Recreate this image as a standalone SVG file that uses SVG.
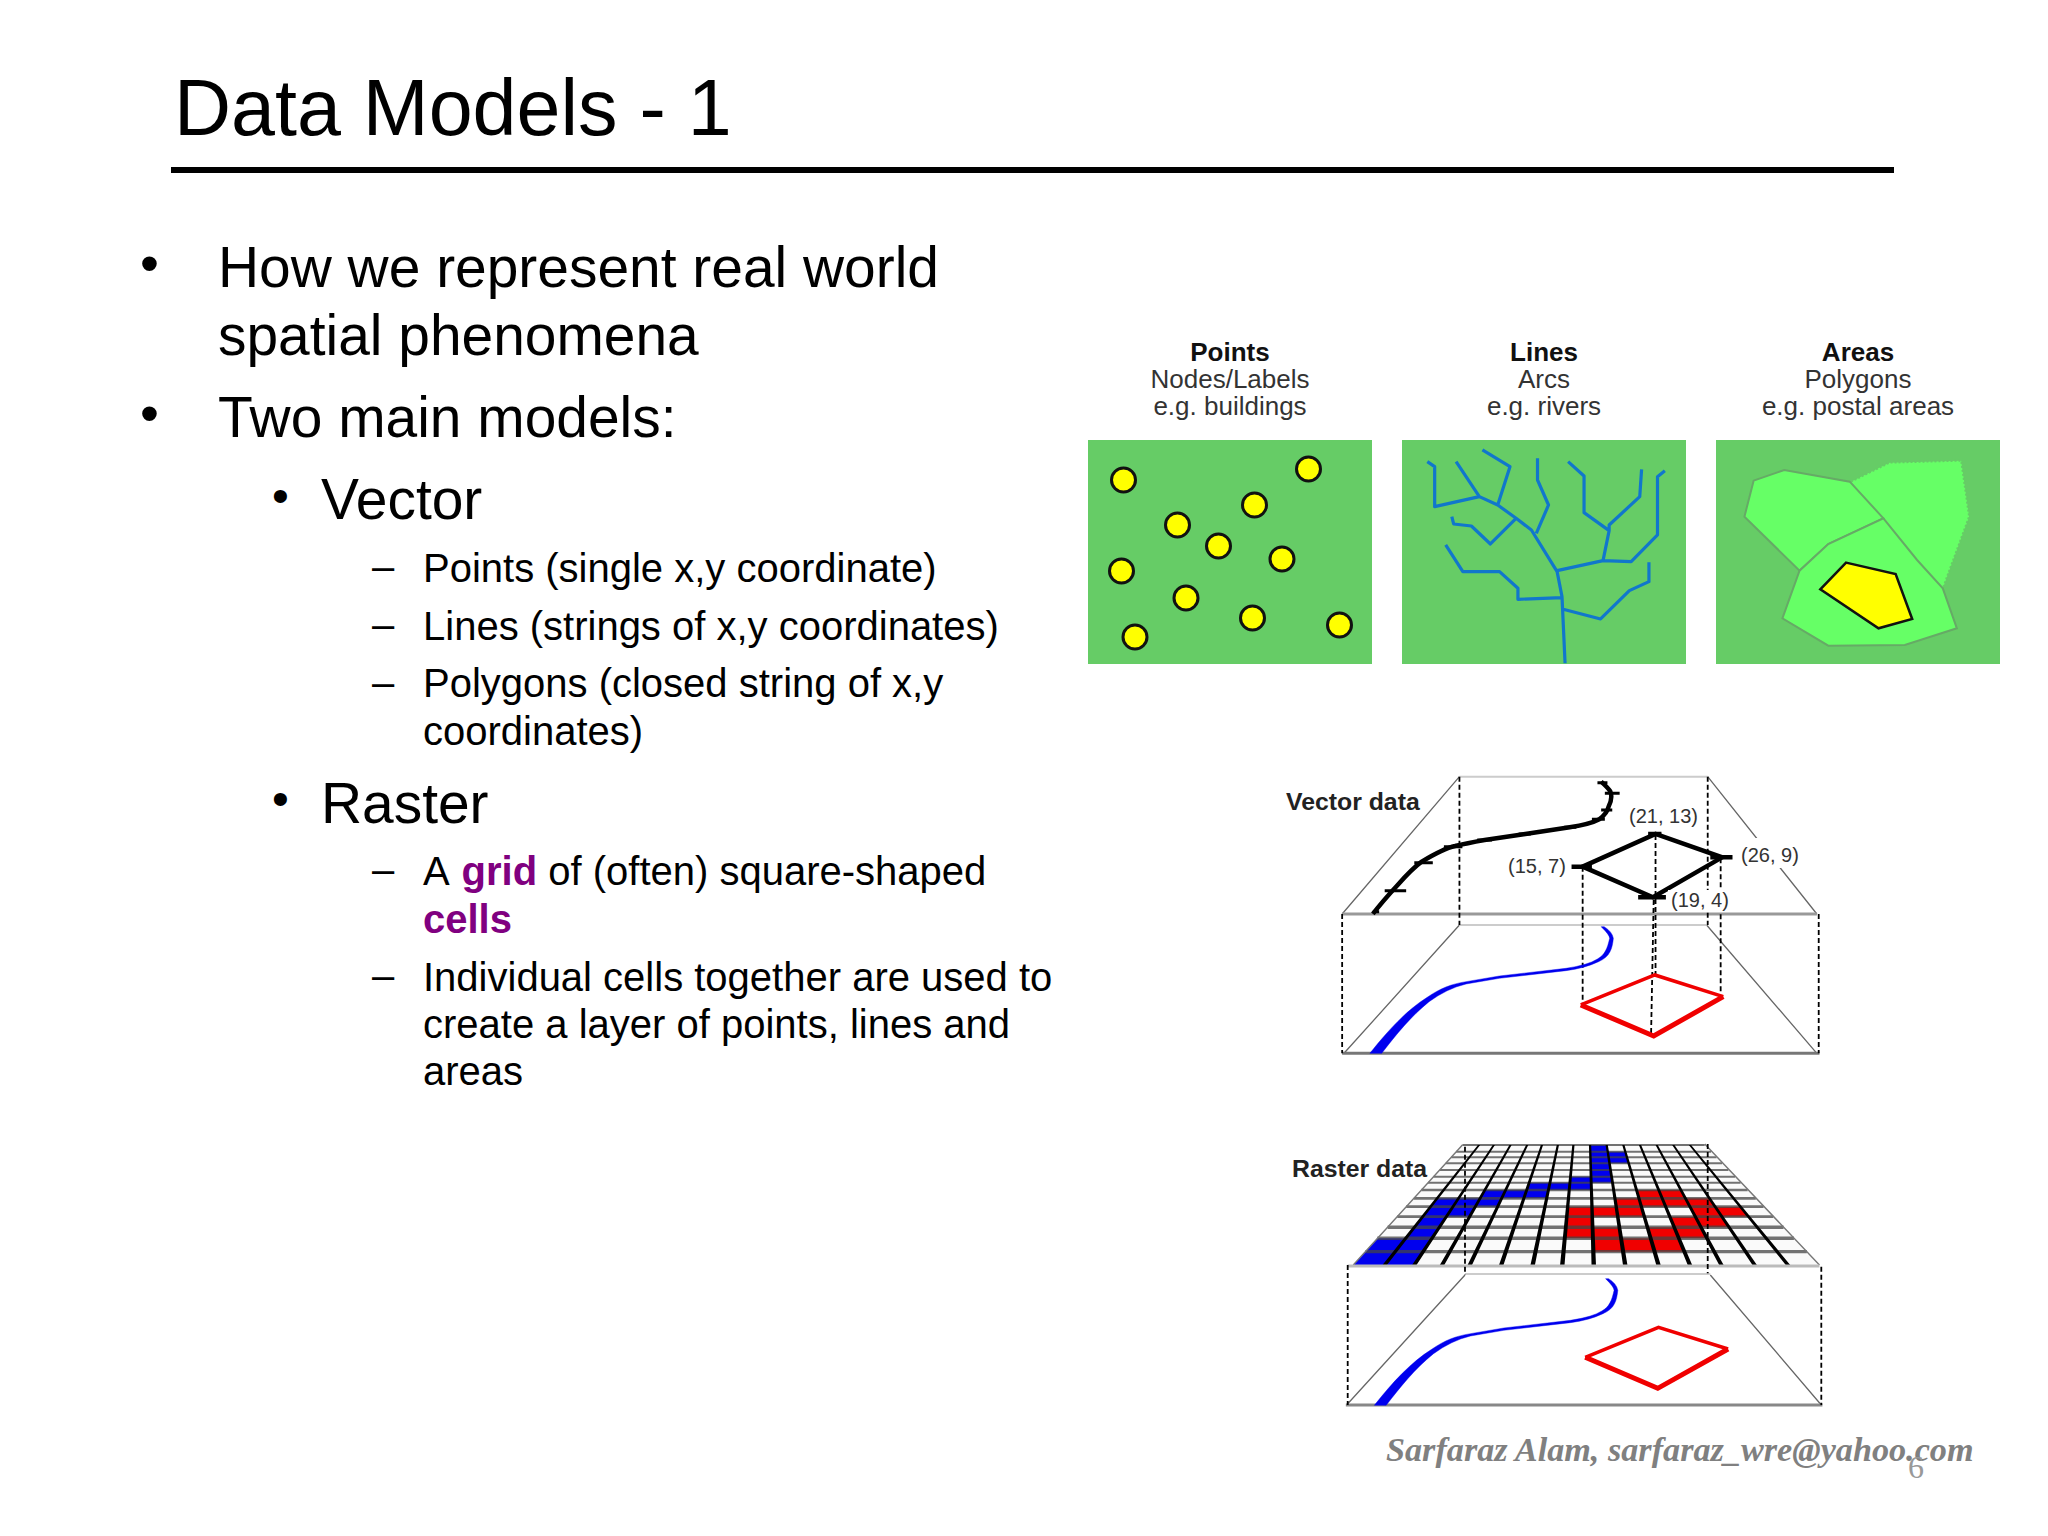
<svg xmlns="http://www.w3.org/2000/svg" width="2048" height="1536" viewBox="0 0 2048 1536">
<defs><style>
text{font-family:"Liberation Sans",Arial,sans-serif;fill:#000}
.t1{font-size:56.9px}.t2{font-size:40px}
.bu{font-size:48px}.bt{font-size:54px}
.dark{fill:#333;font-size:26px;text-anchor:middle}
.hd{fill:#111;font-size:26px;font-weight:bold;text-anchor:middle}
.co{fill:#333;font-size:20px}
.lab{fill:#222;font-size:24.8px;font-weight:bold}
.pt{fill:#ffff00;stroke:#111;stroke-width:3}
.g{fill:#66cc66}
.v *{vector-effect:non-scaling-stroke}
.riv{fill:none;stroke:#1177cc;stroke-width:3.2;stroke-linejoin:round}
.ar{fill:#66ff66;stroke:#66aa66;stroke-width:2}
.dash{fill:none;stroke:#000;stroke-width:1.8;stroke-dasharray:5 3}
.gl{fill:none;stroke:#666;stroke-width:1.3}
.gb{fill:none;stroke:#999;stroke-width:3}
.rd{fill:none;stroke:#f00000;stroke-linejoin:miter}
.blu{fill:#0000ee;stroke:#0000ee;stroke-width:1.2}
</style>
<path id="blue" d="M270,880C320,810 370,750 425,712C460,685 490,672 530,665L620,648L800,625Q860,615 885,597C905,585 912,565 918,535Q918,525 895,500L903,500Q925,515 928,535C925,565 920,590 888,605Q850,625 800,632L620,655L530,672Q480,685 430,725C380,770 340,825 302,880Z"/>
</defs>
<rect width="2048" height="1536" fill="#fff"/>
<g id="title">
<text x="174" y="135" font-size="79">Data Models - 1</text>
<rect x="171" y="167" width="1723" height="6" fill="#000"/>
</g>
<g id="body">
<text class="bt" x="140" y="282">•</text>
<text class="t1" x="218" y="287">How we represent real world</text>
<text class="t1" x="218" y="355">spatial phenomena</text>
<text class="bt" x="140" y="432">•</text>
<text class="t1" x="218" y="437">Two main models:</text>
<text class="bu" x="272" y="512">•</text>
<text class="t1" x="321" y="519">Vector</text>
<text class="t2" x="372" y="580">–</text>
<text class="t2" x="423" y="582">Points (single x,y coordinate)</text>
<text class="t2" x="372" y="638">–</text>
<text class="t2" x="423" y="640">Lines (strings of x,y coordinates)</text>
<text class="t2" x="372" y="696">–</text>
<text class="t2" x="423" y="697">Polygons (closed string of x,y</text>
<text class="t2" x="423" y="745">coordinates)</text>
<text class="bu" x="272" y="815">•</text>
<text class="t1" x="321" y="823">Raster</text>
<text class="t2" x="372" y="883">–</text>
<text class="t2" x="423" y="885">A <tspan dx="3" font-weight="bold" style="fill:#800080">grid</tspan> of (often) square-shaped</text>
<text class="t2" x="423" y="933" font-weight="bold" style="fill:#800080">cells</text>
<text class="t2" x="372" y="989">–</text>
<text class="t2" x="423" y="991">Individual cells together are used to</text>
<text class="t2" x="423" y="1038">create a layer of points, lines and</text>
<text class="t2" x="423" y="1085">areas</text>
</g>
<g id="points">
<text class="hd" x="1230" y="361">Points</text>
<text class="dark" x="1230" y="388">Nodes/Labels</text>
<text class="dark" x="1230" y="415">e.g. buildings</text>
<rect class="g" x="1088" y="440" width="284" height="224"/>
<circle class="pt" cx="1123.5" cy="480" r="12"/><circle class="pt" cx="1308.5" cy="469" r="12"/>
<circle class="pt" cx="1254.5" cy="505" r="12"/><circle class="pt" cx="1177.5" cy="525" r="12"/>
<circle class="pt" cx="1218.5" cy="546" r="12"/><circle class="pt" cx="1282" cy="559" r="12"/>
<circle class="pt" cx="1121.5" cy="571" r="12"/><circle class="pt" cx="1186" cy="598" r="12"/>
<circle class="pt" cx="1252.5" cy="618" r="12"/><circle class="pt" cx="1339.5" cy="625" r="12"/>
<circle class="pt" cx="1135" cy="637" r="12"/>
</g>
<g id="lines">
<text class="hd" x="1544" y="361">Lines</text>
<text class="dark" x="1544" y="388">Arcs</text>
<text class="dark" x="1544" y="415">e.g. rivers</text>
<rect class="g" x="1402" y="440" width="284" height="224"/>
<g class="v" transform="translate(1060 320) scale(.6122 .3333)">
<path class="riv" d="M825,1030L820,830L812,755L770,630L745,595L715,555L685,530M600,425L612,440L612,560L685,530L647,425M690,390L735,440L715,555M640,590L643,612L672,618L703,672L745,595M780,415L780,480L798,555L778,640M830,425L856,468L856,578L897,632L887,722L812,752M897,632L897,615L947,530L950,448M887,722L933,725L976,645L976,470L988,452M630,675L658,755L718,755L748,805L748,838L820,833M822,868L883,897L930,812L962,785L962,727"/>
</g>
</g>
<g id="areas">
<text class="hd" x="1858" y="361">Areas</text>
<text class="dark" x="1858" y="388">Polygons</text>
<text class="dark" x="1858" y="415">e.g. postal areas</text>
<rect class="g" x="1716" y="440" width="284" height="224"/>
<g class="v" transform="translate(1060 320) scale(.6122 .3333)">
<path d="M1292,485L1355,428L1472,422L1485,590L1442,805L1400,720L1345,595Z" fill="#66ff66"/>
<path d="M1292,485L1355,428L1472,422L1485,590L1442,805" fill="none" stroke="#66cc66" stroke-width="2" stroke-dasharray="2 2"/>
<path class="ar" d="M1133,482L1183,450L1290,485L1345,595L1255,672L1208,752L1118,590Z"/>
<path class="ar" d="M1345,595L1400,720L1442,805L1465,925L1380,975L1255,977L1180,895L1208,752L1255,672Z"/>
<path d="M1284,728L1365,762L1392,897L1337,925L1242,808Z" fill="#ffff00" stroke="#111" stroke-width="2.5"/>
</g>
</g>
<g id="vector-data">
<text class="lab" x="1286" y="810">Vector data</text>
<g class="v" transform="translate(1270 760) scale(.37 .3333)">
<path class="gl" d="M195,462L512,50M1183,50L1478,462M200,880L512,495M1180,495L1478,880"/>
<path d="M512,495H1180M512,50H1183" fill="none" stroke="#ccc" stroke-width="2"/>
<path class="gb" d="M195,462H1478"/>
<path d="M195,880H1485" fill="none" stroke="#777" stroke-width="3"/>
<path class="dash" d="M512,50V495M1183,50V495M195,462V880M1483,462V880M845,320V735M1042,225V650M1037,420L1030,820M1218,295V700"/>
<path d="M278,462C300,430 320,405 345,375C365,350 385,325 410,305C440,285 470,265 500,258C530,250 555,245 580,240L690,222L810,202C840,197 870,190 890,178C905,165 912,155 915,140C922,125 925,110 920,95C915,85 905,75 895,65" fill="none" stroke="#000" stroke-width="4.5" stroke-linejoin="round"/>
<path d="M310,392H368M390,308H440M470,260H520M560,240H600M672,222H705M795,202H828M870,178H905M895,150H925M905,100H945M885,68H912M278,455H295" fill="none" stroke="#000" stroke-width="3"/>
<path d="M845,320L1042,222L1222,292L1035,412Z" fill="none" stroke="#000" stroke-width="4.5"/>
<path d="M815,320H870M1022,222H1058M1190,292H1250M995,412H1070" fill="none" stroke="#000" stroke-width="4.5"/>
<use href="#blue" class="blu"/>
<path class="rd" stroke-width="3.5" d="M840,735L1040,645L1225,710"/>
<path class="rd" stroke-width="5" d="M840,735L1037,828L1225,710"/>
</g>
<rect x="1736" y="838" width="66" height="30" fill="#fff"/>
<rect x="1668" y="890" width="62" height="22" fill="#fff"/>
<text class="co" x="1629" y="823">(21, 13)</text>
<text class="co" x="1741" y="862">(26, 9)</text>
<text class="co" x="1508" y="873">(15, 7)</text>
<text class="co" x="1671" y="907">(19, 4)</text>
</g>
<g id="raster-data">
<text class="lab" x="1292" y="1177">Raster data</text>
<g class="v" transform="translate(1270 1130) scale(.37 .3333)">
<path d="M520,45L1175,42L1485,405L225,405Z" fill="#fafafa"/>
<path fill="#0000ee" d="M865,45L910,45L926,158L868,158ZM913,65L960,65L970,100L918,100ZM812,140L868,140L869,180L809,180ZM700,158L811,158L809,180L694,180ZM581,180L752,180L748,205L568,205ZM452,205L626,205L615,230L434,230ZM434,230L555,230L540,260L413,260ZM413,260L477,260L458,292L390,292ZM390,292L458,292L438,325L367,325ZM290,325L438,325L390,405L225,405Z"/>
<path fill="#f00000" d="M991,180L1111,180L1123,205L997,205ZM932,205L1188,205L1203,230L936,230ZM805,230L1004,230L1012,260L802,260ZM1135,230L1271,230L1293,260L1149,260ZM802,260L871,260L872,292L799,292ZM1081,260L1221,260L1241,292L1093,292ZM799,292L944,292L949,325L797,325ZM1020,292L1165,292L1181,325L1029,325ZM873,325L1105,325L1120,365L874,365Z"/>
<path fill="none" stroke="#444" stroke-opacity=".75" stroke-width="2" d="M520,45H1175M503,65H1192M490,82H1207M475,100H1222M459,120H1239M442,140H1257M427,158H1272"/>
<path fill="none" stroke="#444" stroke-opacity=".75" stroke-width="2.6" d="M409,180H1291M389,205H1313M368,230H1334M344,260H1360"/>
<path fill="none" stroke="#444" stroke-opacity=".75" stroke-width="3.4" d="M318,292H1388M290,325H1416M258,365H1451"/>
<path fill="#000" d="M562,45L568,45L316,405L304,405ZM602,45L608,45L396,405L384,405ZM647,45L653,45L471,405L459,405ZM692,45L698,45L546,405L534,405ZM732,45L738,45L631,405L619,405ZM775,45L781,45L716,405L704,405ZM817,45L823,45L796,405L784,405ZM862,45L868,45L881,405L869,405ZM907,45L913,45L966,405L954,405ZM952,45L958,45L1056,405L1044,405ZM997,45L1003,45L1141,405L1129,405ZM1042,45L1048,45L1226,405L1214,405ZM1087,45L1093,45L1316,405L1304,405ZM1132,45L1138,45L1406,405L1394,405Z"/>
<path fill="none" stroke="#777" stroke-width="1.4" d="M520,45L225,405M1175,42L1485,405"/>
<path class="gl" d="M207,825L527,435M1190,435L1490,825"/>
<path d="M527,432H1190" fill="none" stroke="#ccc" stroke-width="2"/>
<path d="M210,408H1485" fill="none" stroke="#bbb" stroke-width="3"/>
<path d="M205,825H1493" fill="none" stroke="#888" stroke-width="3"/>
<path class="dash" d="M527,50V435M1183,42V430M210,405V825M1490,410V825"/>
<use href="#blue" class="blu" transform="translate(12 -54)"/>
<path class="rd" stroke-width="3.5" d="M852,682L1050,592L1238,657"/>
<path class="rd" stroke-width="5" d="M852,682L1048,775L1238,657"/>
</g>
</g>
<g id="footer">
<text x="1386" y="1461" font-size="34.2" font-weight="bold" font-style="italic" style="font-family:'Liberation Serif',serif;fill:#808080">Sarfaraz Alam, sarfaraz_wre@yahoo.com</text>
<text x="1908" y="1478" font-size="32" style="font-family:'Liberation Serif',serif;fill:#999">6</text>
</g>
</svg>
